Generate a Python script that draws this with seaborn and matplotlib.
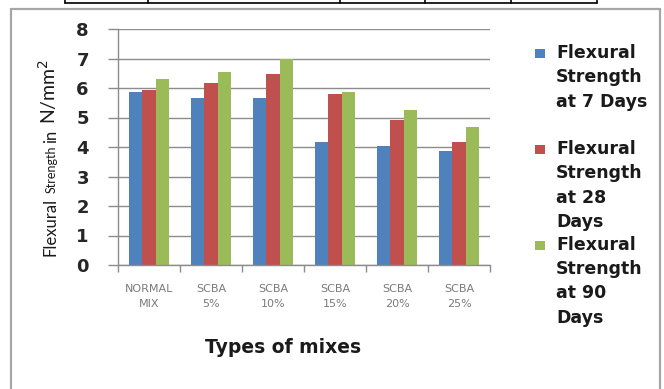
import numpy as np
import pandas as pd
import matplotlib
matplotlib.use("Agg")
import matplotlib.pyplot as plt
import seaborn as sns
from matplotlib.patches import Rectangle
from matplotlib.legend_handler import HandlerPatch
from matplotlib.lines import Line2D
from matplotlib.ticker import FixedLocator

# ---------------- data ----------------
categories = ["NORMAL\nMIX", "SCBA\n5%", "SCBA\n10%", "SCBA\n15%", "SCBA\n20%", "SCBA\n25%"]
series_names = ["Flexural\nStrength\nat 7 Days\n",
                "Flexural\nStrength\nat 28\nDays",
                "Flexural\nStrength\nat 90\nDays"]
strength_7_days = [5.85, 5.66, 5.66, 4.16, 4.05, 3.87]
strength_28_days = [5.92, 6.17, 6.47, 5.79, 4.92, 4.17]
strength_90_days = [6.30, 6.54, 7.00, 5.85, 5.24, 4.67]
y_ticks = [0, 1, 2, 3, 4, 5, 6, 7, 8]
colors = ["#4F81BD", "#C0504D", "#9BBB59"]

df = pd.DataFrame({
    "mix": categories * 3,
    "series": [series_names[0]] * 6 + [series_names[1]] * 6 + [series_names[2]] * 6,
    "value": strength_7_days + strength_28_days + strength_90_days,
})

sns.set_theme(style="white")
plt.rcParams["font.family"] = ["DejaVu Sans"]

W, H = 664, 389
fig = plt.figure(figsize=(W / 100, H / 100), dpi=100)
fig.patch.set_facecolor("white")

ax_l, ax_r, ax_t, ax_b = 118, 490, 29, 265
ax = fig.add_axes([ax_l / W, 1 - ax_b / H, (ax_r - ax_l) / W, (ax_b - ax_t) / H])

sns.barplot(data=df, x="mix", y="value", hue="series", order=categories,
            hue_order=series_names, palette=colors, width=0.65,
            saturation=1, ax=ax, linewidth=0, edgecolor="none")

handles = ax.get_legend().legend_handles
ax.get_legend().remove()

grey = "#8c8c8c"
ax.set_xlim(-0.5, len(categories) - 0.5)
ax.set_ylim(0, 8)
ax.set_yticks(y_ticks)
ax.set_axisbelow(True)
ax.yaxis.grid(True, color=grey, linewidth=1.0)
ax.xaxis.grid(False)
for s in ["top", "right"]:
    ax.spines[s].set_visible(False)
for s in ["left", "bottom"]:
    ax.spines[s].set_color(grey)
    ax.spines[s].set_linewidth(1.0)

ax.tick_params(axis="y", which="major", left=True, length=7, width=1,
               color=grey, pad=14, labelsize=13, labelcolor="#262626")
for t in ax.get_yticklabels():
    t.set_fontweight("bold")

ax.set_xticks(range(len(categories)))
ax.set_xticklabels(categories, fontsize=8, color="#7a7a7a", linespacing=1.6)
ax.tick_params(axis="x", which="major", length=0, pad=14)
ax.xaxis.set_minor_locator(FixedLocator(np.arange(-0.5, len(categories), 1.0)))
ax.tick_params(axis="x", which="minor", bottom=True, length=5, width=1, color=grey)

ax.set_ylabel("")
ax.set_xlabel("Types of mixes", fontsize=13.5, fontweight="bold", color="#1a1a1a",
              x=0.444, labelpad=21)

# y-axis title with mixed sizes (words chained bottom-to-top)
bx = 56 / W
ylab_kw = dict(rotation=90, rotation_mode="anchor", ha="left", va="baseline",
               color="#1a1a1a", family=["Lato", "DejaVu Sans"])
ylab_parts = [("Flexural", 12), ("Strength", 9), ("in", 12), (r"N/mm$^{2}$", 14)]
ylab_gaps = [5, 2, 6]
ylab_texts = [fig.text(bx, 1 - 256 / H, txt, fontsize=sz, **ylab_kw) for txt, sz in ylab_parts]

# legend with square at first line of each label
fs = 12.5
ls = 1.45


def top_square(legend, orig_handle, xdescent, ydescent, width, height, fontsize):
    s = 0.56 * fontsize
    pitch = ls * 0.95 * fontsize
    yc = 0.4 * fontsize + 1.5 * pitch
    return Rectangle((-xdescent, yc - s / 2), s, s)


leg = fig.legend(handles, series_names, loc="upper left",
                 bbox_to_anchor=(535 / W, 1 - 44 / H), frameon=False,
                 prop={"size": fs, "weight": "bold"}, labelspacing=0.29,
                 handlelength=0.575, handletextpad=0.63, borderpad=0,
                 borderaxespad=0,
                 handler_map={h: HandlerPatch(patch_func=top_square) for h in handles})
for t in leg.get_texts():
    t.set_linespacing(ls)
    t.set_color("#1a1a1a")

# chart frame and top table remnant
frame_c = "#a6a6a6"
fx0, fx1, fy0 = 11 / W, 660 / W, 1 - 8.5 / H
for xs, ys in [([fx0, fx0], [fy0, -0.05]), ([fx0, fx1], [fy0, fy0]), ([fx1, fx1], [fy0, -0.05])]:
    fig.add_artist(Line2D(xs, ys, transform=fig.transFigure, color=frame_c, lw=1.6))

ty = 1 - 2.5 / H
fig.add_artist(Line2D([65 / W, 597 / W], [ty, ty], transform=fig.transFigure, color="black", lw=1.2))
for vx in [65, 148, 340, 425, 511, 597]:
    fig.add_artist(Line2D([vx / W, vx / W], [ty, 1.01], transform=fig.transFigure, color="black", lw=1.2))

# chain y-label words
fig.canvas.draw()
renderer = fig.canvas.get_renderer()
for prev, cur, gap in zip(ylab_texts[:-1], ylab_texts[1:], ylab_gaps):
    top = prev.get_window_extent(renderer).y1
    cur.set_y((top + gap) / H)

fig.savefig("out.png", dpi=100, facecolor="white")
